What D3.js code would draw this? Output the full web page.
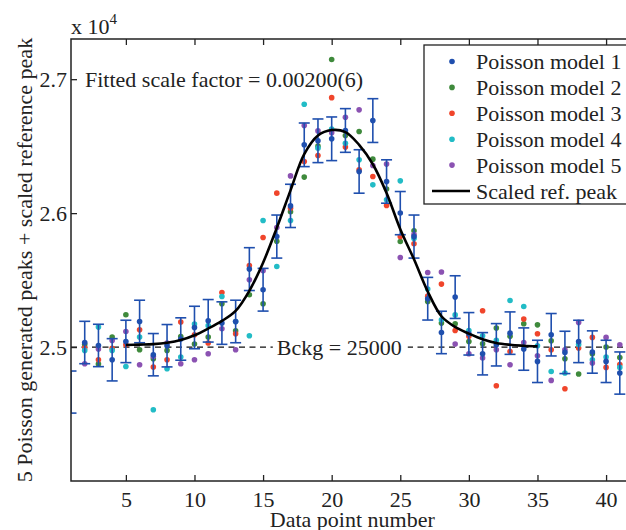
<!DOCTYPE html>
<html lang="en">
<head>
  <meta charset="UTF-8">
  <title>Poisson generated peaks + scaled reference peak</title>
  <script src="https://d3js.org/d3.v7.min.js"></script>
  <style>
    body { margin: 0; overflow: hidden; background: #fff; }
    text { font-family: "Liberation Serif", "Times New Roman", serif; fill: #222; }
  </style>
</head>
<body>
  <div id="chart"></div>

  <script>
    // data point numbers 1..41
    const pointNumber = d3.range(1, 42);

    // five Poisson realisations (counts)
    const model1 = [24664, 25034, 25012, 24905, 25042, 25191, 24943, 25010, 25060, 25146,
                    25196, 25179, 25191, 25582, 25428, 25825, 26054, 26510, 26540, 26555,
                    26617, 26311, 26691, 26236, 26000, 25825, 25361, 25109, 25373, 25099,
                    24950, 25017, 25104, 24985, 24893, 25092, 24960, 25042, 24963, 24893, 24806];
    const model2 = [24950, 25020, 24873, 25075, 25241, 24980, 24913, 24975, 25079, 25022,
                    25075, 25323, 25122, 25390, 25323, 25790, 26010, 26269, 26500, 27147,
                    26580, 26609, 26403, 26180, 25788, 25868, 25340, 25179, 25174, 25042,
                    25025, 25142, 25080, 25174, 25166, 25047, 24913, 24799, 24950, 25000, 24922];
    const model3 = [24900, 24993, 24905, 24990, 25017, 25129, 24851, 24905, 25187, 25092,
                    25030, 25407, 25099, 25609, 25818, 26149, 26037, 26385, 26430, 26862,
                    26493, 26323, 26273, 26057, 25825, 25771, 25380, 25470, 25124, 25080,
                    25271, 24711, 24967, 25209, 25099, 24980, 24689, 24993, 25072, 24848, 24870];
    const model4 = [25050, 24975, 25149, 24975, 24855, 25075, 24532, 24838, 24925, 25172,
                    25160, 25377, 25190, 25084, 25945, 25601, 25945, 26813, 26485, 26627,
                    26522, 26398, 26211, 26099, 26241, 25810, 25433, 25204, 25240, 25124,
                    25084, 25050, 25348, 25303, 25010, 24818, 24806, 25020, 24905, 24925, 24848];
    const model5 = [24980, 24875, 24985, 25049, 25116, 24868, 24930, 25030, 24875, 24905,
                    24950, 25137, 24980, 25503, 25570, 25892, 26278, 26654, 26614, 26600,
                    26716, 26771, 26355, 26366, 25669, 25840, 25557, 25560, 25022, 24950,
                    24918, 24980, 24868, 25034, 24935, 24751, 24980, 25184, 24881, 25072, 25017];

    // scaled reference peak (points 5..35)
    const refX = d3.range(5, 36);
    const refPeak = [25015, 25018, 25022, 25032, 25052, 25088, 25138, 25195, 25270, 25420,
                     25630, 25890, 26170, 26440, 26580, 26620, 26605, 26510, 26365, 26150,
                     25880, 25655, 25415, 25230, 25150, 25100, 25058, 25030, 25017, 25010, 25005];

    const background = 25000;
    const xTicks = [5, 10, 15, 20, 25, 30, 35, 40];
    const yTicks = [25000, 26000, 27000];
    const yTickLabels = ["2.5", "2.6", "2.7"];
    const seriesNames = ["Poisson model 1", "Poisson model 2", "Poisson model 3", "Poisson model 4", "Poisson model 5"];
    const seriesColors = ["#1f4fae", "#3f8a3c", "#f0452b", "#22bcc6", "#8b52b2"];

    const width = 660, height = 530;
    const mLeft = 71, mTop = 39, mBottom = 481;

    const svg = d3.select("#chart").append("svg")
      .attr("width", width)
      .attr("height", height);

    const x = d3.scaleLinear().domain([1, 42]).range([mLeft, mLeft + 41 * 13.72]);
    const y = d3.scaleLinear().domain([24000, 27300]).range([mBottom, mTop]);
    const mRight = x(42);

    svg.append("clipPath").attr("id", "plot")
      .append("rect")
      .attr("x", mLeft).attr("y", mTop)
      .attr("width", mRight - mLeft).attr("height", mBottom - mTop);

    const plot = svg.append("g").attr("clip-path", "url(#plot)");

    // background level
    plot.append("line")
      .attr("x1", mLeft).attr("x2", mRight)
      .attr("y1", y(background)).attr("y2", y(background))
      .attr("stroke", "#111").attr("stroke-width", 1.2)
      .attr("stroke-dasharray", "6,4.5");

    // models 2..5 as dots
    const others = [model2, model3, model4, model5];
    others.forEach((vals, k) => {
      plot.append("g")
        .selectAll("circle")
        .data(pointNumber.map((p, i) => ({ p, v: vals[i] })).filter(d => d.p > 1))
        .join("circle")
        .attr("cx", d => x(d.p))
        .attr("cy", d => y(d.v))
        .attr("r", 2.8)
        .attr("fill", seriesColors[k + 1]);
    });

    // model 1 with sqrt(N) error bars
    const m1 = pointNumber.map((p, i) => ({ p, v: model1[i], e: Math.sqrt(model1[i]) }));
    const eb = plot.append("g")
      .attr("stroke", seriesColors[0])
      .attr("stroke-width", 1.6)
      .attr("fill", "none");
    m1.forEach(d => {
      const cx = x(d.p), y1 = y(d.v + d.e), y2 = y(d.v - d.e);
      eb.append("line").attr("x1", cx).attr("x2", cx).attr("y1", y1).attr("y2", y2);
      eb.append("line").attr("x1", cx - 5.5).attr("x2", cx + 5.5).attr("y1", y1).attr("y2", y1);
      eb.append("line").attr("x1", cx - 5.5).attr("x2", cx + 5.5).attr("y1", y2).attr("y2", y2);
    });
    plot.append("g")
      .selectAll("circle")
      .data(m1.filter(d => d.p > 1))
      .join("circle")
      .attr("cx", d => x(d.p))
      .attr("cy", d => y(d.v))
      .attr("r", 2.8)
      .attr("fill", seriesColors[0]);

    // scaled reference peak
    const line = d3.line()
      .x(d => x(d[0]))
      .y(d => y(d[1]))
      .curve(d3.curveCatmullRom);
    plot.append("path")
      .attr("d", line(refX.map((p, i) => [p, refPeak[i]])))
      .attr("fill", "none")
      .attr("stroke", "#000")
      .attr("stroke-width", 2.6);

    // Bckg label with white background
    const bx = x(16), by = y(background);
    svg.append("rect")
      .attr("x", bx - 4).attr("y", by - 11)
      .attr("width", 135).attr("height", 22)
      .attr("fill", "#fff");
    svg.append("text")
      .attr("x", bx).attr("y", by + 8)
      .attr("font-size", 22)
      .text("Bckg = 25000");

    svg.append("text")
      .attr("x", 85).attr("y", 87)
      .attr("font-size", 22)
      .text("Fitted scale factor = 0.00200(6)");

    // axes (ticks inside, box)
    const axisBottom = d3.axisBottom(x).tickValues(xTicks).tickSizeInner(-6).tickSizeOuter(0).tickPadding(10);
    const gx = svg.append("g").attr("transform", `translate(0,${mBottom})`).call(axisBottom);
    gx.select(".domain").remove();
    gx.selectAll("text").attr("font-size", 22).attr("font-family", "Liberation Serif").attr("fill", "#222");

    const axisTop = d3.axisTop(x).tickValues(xTicks).tickSizeInner(-6).tickSizeOuter(0).tickFormat("");
    const gt = svg.append("g").attr("transform", `translate(0,${mTop})`).call(axisTop);
    gt.select(".domain").remove();

    const axisLeft = d3.axisLeft(y).tickValues(yTicks).tickFormat((d, i) => yTickLabels[i])
      .tickSizeInner(-6).tickSizeOuter(0).tickPadding(4);
    const gy = svg.append("g").attr("transform", `translate(${mLeft},0)`).call(axisLeft);
    gy.select(".domain").remove();
    gy.selectAll("text").attr("font-size", 22).attr("font-family", "Liberation Serif").attr("fill", "#222");

    svg.selectAll(".tick line").attr("stroke", "#222").attr("stroke-width", 1.3);

    svg.append("rect")
      .attr("x", mLeft).attr("y", mTop)
      .attr("width", mRight - mLeft).attr("height", mBottom - mTop)
      .attr("fill", "none").attr("stroke", "#222").attr("stroke-width", 1.5);

    // exponent label
    const ex = svg.append("text").attr("x", 71).attr("y", 34).attr("font-size", 22);
    ex.append("tspan").text("x 10");
    ex.append("tspan").attr("font-size", 15).attr("dy", -10).text("4");

    // axis titles
    svg.append("text")
      .attr("x", (mLeft + mRight) / 2).attr("y", 527)
      .attr("text-anchor", "middle").attr("font-size", 22)
      .text("Data point number");
    svg.append("text")
      .attr("transform", `translate(32,${(mTop + mBottom) / 2}) rotate(-90)`)
      .attr("text-anchor", "middle").attr("font-size", 22)
      .text("5 Poisson generated peaks + scaled reference peak");

    // legend
    const lg = svg.append("g");
    lg.append("rect")
      .attr("x", 424).attr("y", 45)
      .attr("width", 230).attr("height", 159)
      .attr("fill", "#fff").attr("stroke", "#222").attr("stroke-width", 1.3);
    seriesNames.forEach((name, i) => {
      const rowY = 61.5 + i * 25.9;
      lg.append("circle").attr("cx", 452).attr("cy", rowY).attr("r", 2.8).attr("fill", seriesColors[i]);
      lg.append("text").attr("x", 476).attr("y", rowY + 7.5).attr("font-size", 22).text(name);
    });
    const lastY = 61.5 + 5 * 25.9;
    lg.append("line").attr("x1", 432).attr("x2", 470).attr("y1", lastY).attr("y2", lastY)
      .attr("stroke", "#000").attr("stroke-width", 2.6);
    lg.append("text").attr("x", 476).attr("y", lastY + 7.5).attr("font-size", 22).text("Scaled ref. peak");
  </script>
</body>
</html>
